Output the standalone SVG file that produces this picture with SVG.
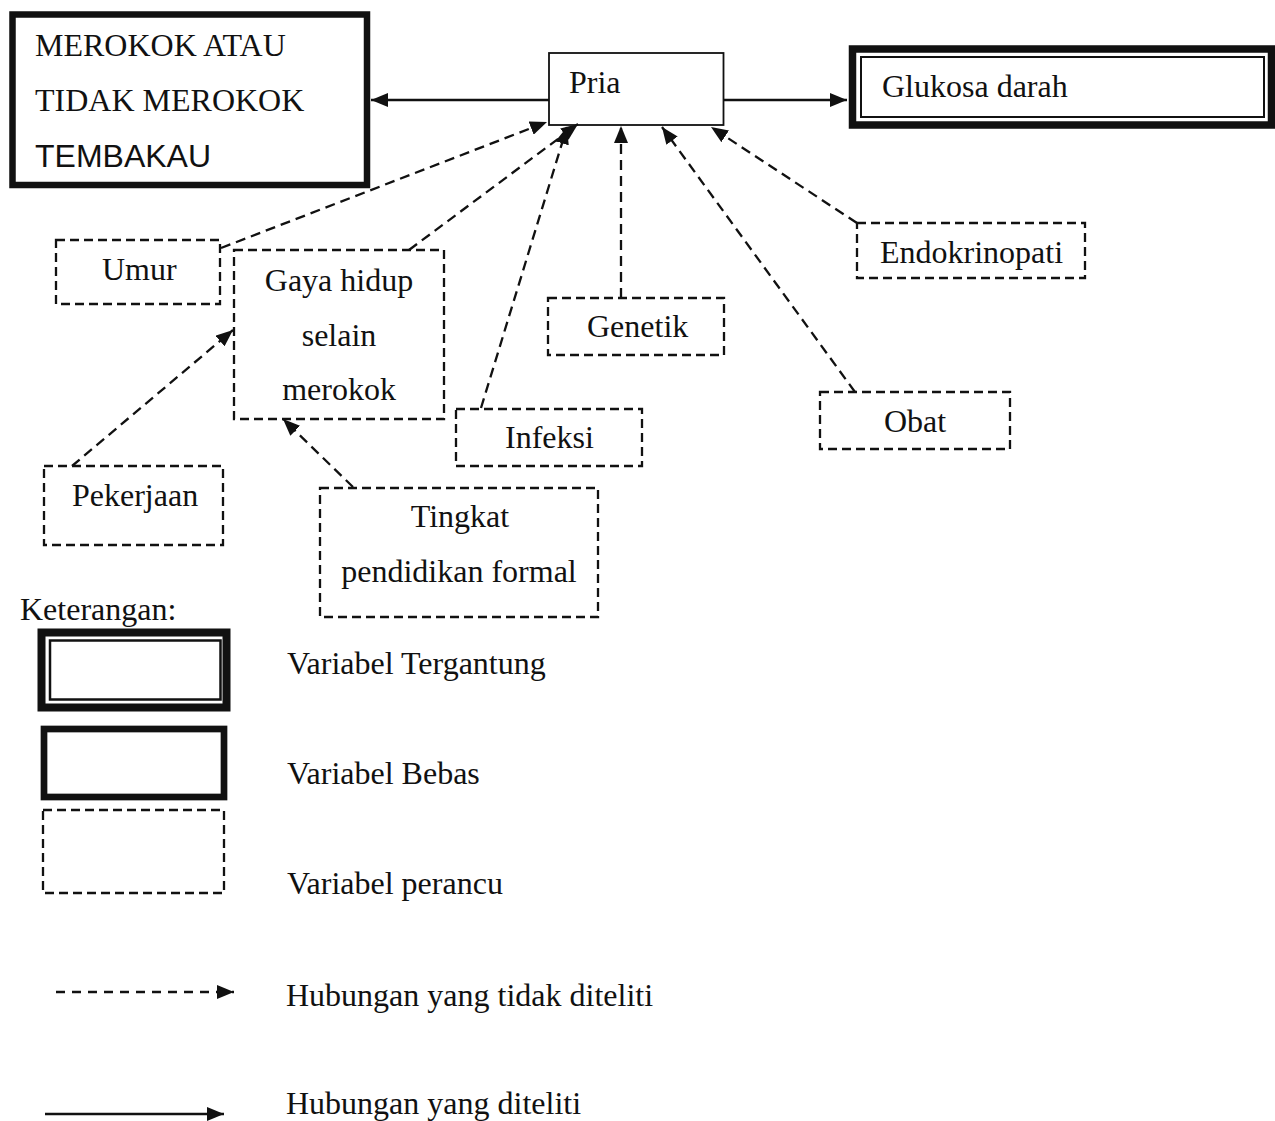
<svg xmlns="http://www.w3.org/2000/svg" width="1275" height="1121" viewBox="0 0 1275 1121">
<defs>
<style>
.t{font-family:"Liberation Serif","Times New Roman",serif;font-size:32px;fill:#111}
.s{font-family:"Liberation Sans",Arial,sans-serif;font-size:32px;fill:#111}
.m{text-anchor:middle}
.db{fill:none;stroke:#111;stroke-width:2.3;stroke-dasharray:9 5}
.dl{fill:none;stroke:#111;stroke-width:2.3;stroke-dasharray:10 6}
.sl{fill:none;stroke:#111;stroke-width:2.3}
</style>
<marker id="ah" viewBox="0 0 17 14" refX="17" refY="7" markerWidth="17" markerHeight="14" markerUnits="userSpaceOnUse" orient="auto">
<path d="M0,0 L17,7 L0,14 z" fill="#111"/>
</marker>
</defs>
<rect width="1275" height="1121" fill="#fff"/>

<g id="connectors">
<line class="sl" x1="549" y1="100" x2="371" y2="100" marker-end="url(#ah)"/>
<line class="sl" x1="724" y1="100" x2="847" y2="100" marker-end="url(#ah)"/>
<line class="dl" x1="221" y1="248" x2="547" y2="122" marker-end="url(#ah)"/>
<line class="dl" x1="409" y1="250" x2="578" y2="124" marker-end="url(#ah)"/>
<line class="dl" x1="481" y1="408" x2="567" y2="127" marker-end="url(#ah)"/>
<line class="dl" x1="621" y1="298" x2="621" y2="126" marker-end="url(#ah)"/>
<line class="dl" x1="855" y1="392" x2="662" y2="127" marker-end="url(#ah)"/>
<line class="dl" x1="857" y1="223" x2="711" y2="127" marker-end="url(#ah)"/>
<line class="dl" x1="72" y1="466" x2="233" y2="330" marker-end="url(#ah)"/>
<line class="dl" x1="353" y1="487" x2="283" y2="419" marker-end="url(#ah)"/>
</g>

<g id="merokok">
<rect x="12.5" y="14.5" width="354.5" height="170.5" fill="none" stroke="#111" stroke-width="6.5"/>
<text class="t" x="35" y="56">MEROKOK ATAU</text>
<text class="t" x="35" y="111">TIDAK MEROKOK</text>
<text class="s" x="35" y="167">TEMBAKAU</text>
</g>

<g id="pria">
<rect x="549" y="53" width="174.5" height="72" fill="none" stroke="#111" stroke-width="1.8"/>
<text class="t" x="569" y="93">Pria</text>
</g>

<g id="glukosa">
<rect x="852.5" y="49" width="419" height="76" fill="none" stroke="#111" stroke-width="7.5"/>
<rect x="861" y="57" width="403" height="60" fill="none" stroke="#111" stroke-width="2"/>
<text class="t" x="882" y="97">Glukosa darah</text>
</g>

<g id="umur">
<rect class="db" x="56" y="240" width="164" height="64"/>
<text class="t" x="102" y="280">Umur</text>
</g>

<g id="gaya">
<rect class="db" x="234" y="250" width="210" height="169"/>
<text class="t m" x="339" y="291">Gaya hidup</text>
<text class="t m" x="339" y="346">selain</text>
<text class="t m" x="339" y="400">merokok</text>
</g>

<g id="endokrinopati">
<rect class="db" x="857" y="223" width="228" height="55"/>
<text class="t" x="880" y="263">Endokrinopati</text>
</g>

<g id="genetik">
<rect class="db" x="548" y="298" width="176" height="57"/>
<text class="t" x="587" y="337">Genetik</text>
</g>

<g id="infeksi">
<rect class="db" x="456" y="409" width="186" height="57"/>
<text class="t" x="505" y="448">Infeksi</text>
</g>

<g id="obat">
<rect class="db" x="820" y="392" width="190" height="57"/>
<text class="t" x="884" y="432">Obat</text>
</g>

<g id="pekerjaan">
<rect class="db" x="44" y="466" width="179" height="79"/>
<text class="t" x="72" y="506">Pekerjaan</text>
</g>

<g id="tingkat">
<rect class="db" x="320" y="488" width="278" height="129"/>
<text class="t m" x="460" y="527">Tingkat</text>
<text class="t m" x="459" y="582">pendidikan formal</text>
</g>

<g id="legend">
<text class="t" x="20" y="620">Keterangan:</text>
<rect x="41.5" y="632.5" width="185" height="75" fill="none" stroke="#111" stroke-width="8"/>
<rect x="50" y="640.5" width="170.5" height="59" fill="none" stroke="#111" stroke-width="2.5"/>
<text class="t" x="287" y="674">Variabel Tergantung</text>
<rect x="44" y="729" width="180" height="68" fill="none" stroke="#111" stroke-width="6.7"/>
<text class="t" x="287" y="784">Variabel Bebas</text>
<rect class="db" x="43" y="810" width="181" height="83"/>
<text class="t" x="287" y="894">Variabel perancu</text>
<line x1="56" y1="992" x2="234" y2="992" fill="none" stroke="#111" stroke-width="2.3" stroke-dasharray="9 7" marker-end="url(#ah)"/>
<text class="t" x="286" y="1006">Hubungan yang tidak diteliti</text>
<line class="sl" x1="45" y1="1114" x2="224" y2="1114" marker-end="url(#ah)"/>
<text class="t" x="286" y="1114">Hubungan yang diteliti</text>
</g>
</svg>
